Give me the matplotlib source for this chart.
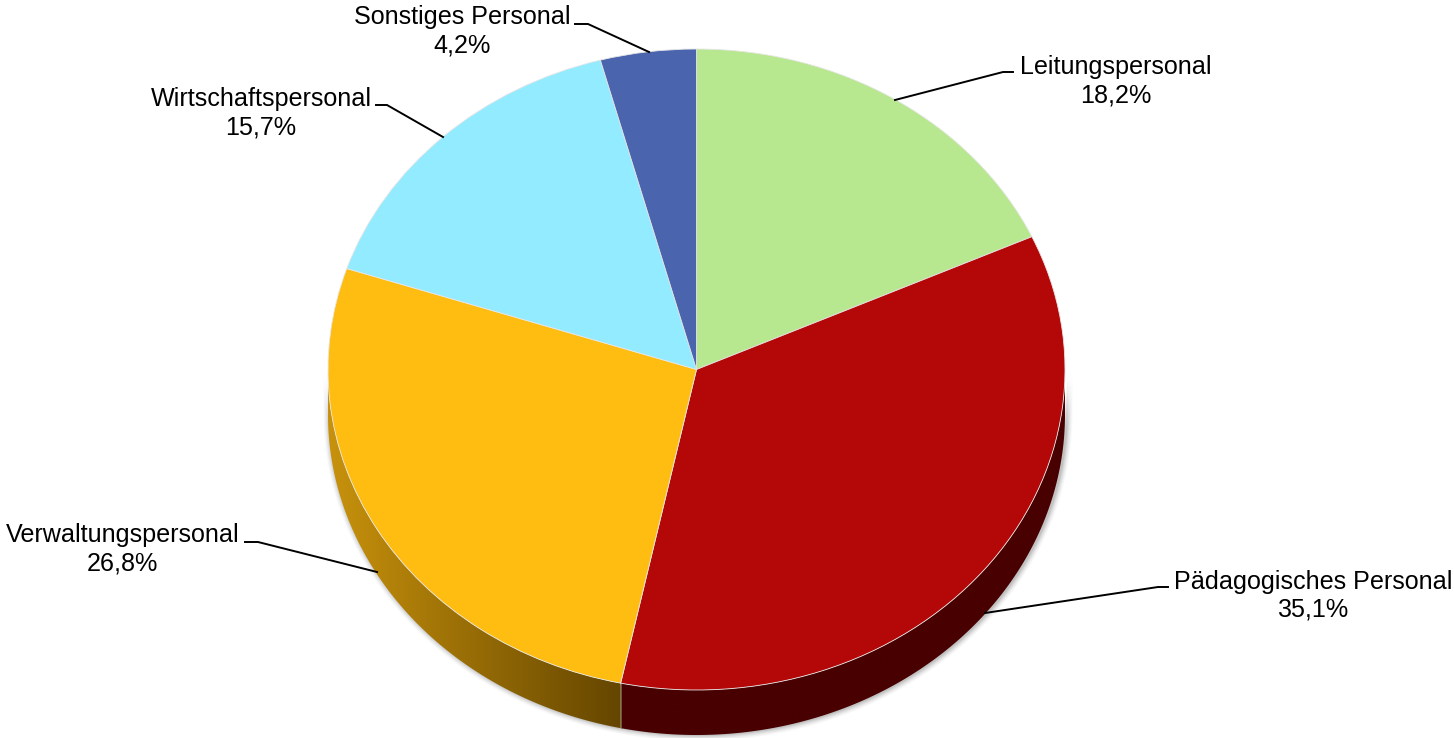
import numpy as np
import matplotlib
matplotlib.use("Agg")
import matplotlib.pyplot as plt
from matplotlib.colors import LinearSegmentedColormap
from matplotlib.patches import Polygon

plt.rcParams['font.family'] = ['Liberation Sans', 'DejaVu Sans']

# Data
labels = ['Leitungspersonal', 'Pädagogisches Personal', 'Verwaltungspersonal',
          'Wirtschaftspersonal', 'Sonstiges Personal']
values = [18.2, 35.1, 26.8, 15.7, 4.2]
value_labels = ['18,2%', '35,1%', '26,8%', '15,7%', '4,2%']
colors = ['#b7e78e', '#b40808', '#ffbd12', '#92ebff', '#4a65ae']

# Side wall colours, (left end, right end) of a horizontal gradient
wall_colors = [('#5c7a40', '#5c7a40'), ('#480000', '#480000'), ('#c8920c', '#654600'),
               ('#4a7a85', '#4a7a85'), ('#253258', '#253258')]

W, H = 1454, 738
CX, CY = 696.5, 369.5
RX, RY = 368.5, 320.5
DEPTH = 45 / RY

fig = plt.figure(figsize=(W / 100, H / 100), dpi=100)
ax = fig.add_axes([0, 0, 1, 1])

# the pie is a unit circle, the limits squash it into an ellipse
wedges, _ = ax.pie(values, colors=colors, startangle=90, counterclock=False, radius=1,
                   wedgeprops={'edgecolor': '#e6e6e6', 'linewidth': 0.6, 'zorder': 5})

# soft shadow below the outer wall, pushed a little to the right
t = np.linspace(np.pi * 1.0, np.pi * 2.0, 200)
for grow, alpha in zip([6, 5, 4, 3, 2, 1], [0.03, 0.04, 0.05, 0.07, 0.09, 0.12]):
    sx = np.cos(t) * (RX + grow) / RX + 1.5 / RX
    sy = np.sin(t) * (RY + grow) / RY - DEPTH
    ax.fill(np.r_[sx, sx[::-1]], np.r_[sy, sy[::-1] + DEPTH], color='#555555',
            alpha=alpha, lw=0, zorder=1)

# outer wall, only the part of each slice that faces the viewer
edges = 90 - np.cumsum([0] + values) * 3.6
for i in range(len(values)):
    a0, a1 = np.radians(edges[i + 1]), np.radians(edges[i])
    lo, hi = max(a0, -np.pi), min(a1, 0)
    if lo >= hi:
        continue
    arc = np.linspace(lo, hi, 300)
    x, y = np.cos(arc), np.sin(arc)
    outline = np.c_[np.r_[x, x[::-1]], np.r_[y, y[::-1] - DEPTH]]
    cmap = LinearSegmentedColormap.from_list('wall', wall_colors[i])
    img = ax.imshow(np.linspace(0, 1, 256)[None, :], cmap=cmap, aspect='auto', zorder=2,
                    extent=(x.min(), x.max(), -1 - DEPTH, 0), interpolation='bilinear')
    img.set_clip_path(Polygon(outline, transform=ax.transData))
    # thin seam where two slices meet on the wall
    if -np.pi < a0 < 0:
        ax.plot([np.cos(a0), np.cos(a0)], [np.sin(a0), np.sin(a0) - DEPTH],
                color='#8a7a50', lw=0.5, zorder=3)

ax.set_aspect('auto')
ax.set_xlim(-CX / RX, (W - CX) / RX)
ax.set_ylim((CY - H) / RY, CY / RY)
ax.axis('off')

# labels and leader lines live in pixel coordinates
ov = fig.add_axes([0, 0, 1, 1], facecolor='none')
ov.set_xlim(0, W)
ov.set_ylim(H, 0)
ov.axis('off')

label_pos = [(1115.5, 67), (1313, 582), (122.5, 535), (261, 99), (462.5, 17)]
leaders = [[(895, 100), (1003, 72), (1013, 72)],
           [(985, 613), (1158, 587), (1168, 587)],
           [(377, 572), (258, 542), (245, 542)],
           [(443, 137), (387, 105), (376, 105)],
           [(649, 52), (588, 24), (575, 24)]]

for name, val, pos, line in zip(labels, value_labels, label_pos, leaders):
    ov.text(pos[0], pos[1], name, ha='center', va='center', fontsize=18.1, color='black')
    ov.text(pos[0], pos[1] + 28, val, ha='center', va='center', fontsize=18.1, color='black')
    xs, ys = zip(*line)
    ov.plot(xs, ys, color='black', lw=1.4, solid_joinstyle='miter')

fig.savefig('out.png', dpi=100, facecolor='white')
